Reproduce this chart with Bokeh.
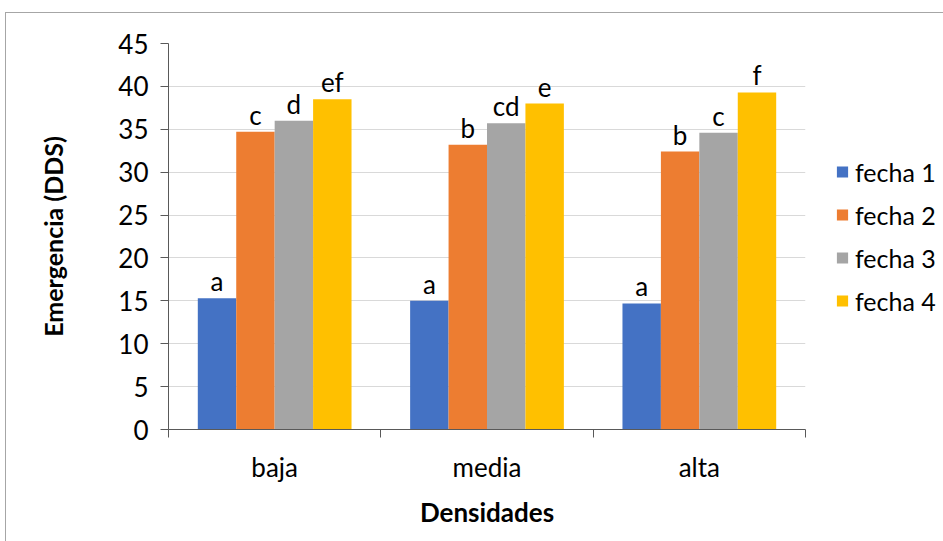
from bokeh.plotting import figure
from bokeh.models import ColumnDataSource, FixedTicker, Legend, LegendItem, Range1d
from bokeh.core.properties import value
from bokeh.embed import file_html
from bokeh.resources import INLINE

# Emergence (DDS) by sowing density and sowing date
categories = ["baja", "media", "alta"]
series_names = ["fecha 1", "fecha 2", "fecha 3", "fecha 4"]
fecha_1 = [15.3, 15.0, 14.7]
fecha_2 = [34.7, 33.2, 32.4]
fecha_3 = [36.0, 35.7, 34.6]
fecha_4 = [38.5, 38.0, 39.3]
letters_1 = ["a", "a", "a"]
letters_2 = ["c", "b", "b"]
letters_3 = ["d", "cd", "c"]
letters_4 = ["ef", "e", "f"]
y_ticks = [0, 5, 10, 15, 20, 25, 30, 35, 40, 45]

series = [fecha_1, fecha_2, fecha_3, fecha_4]
letters = [letters_1, letters_2, letters_3, letters_4]
colors = ["#4472C4", "#ED7D31", "#A5A5A5", "#FFC000"]

FONT = "Lato"
FS = "26px"
BAR_W = 0.181
offsets = [(k - 1.5) * BAR_W for k in range(4)]

p = figure(
    frame_width=637, frame_height=386,
    x_range=Range1d(0, len(categories)), y_range=Range1d(0, 45),
    output_backend="svg", toolbar_location=None,
    min_border_left=162, min_border_top=30, min_border_right=138, min_border_bottom=112,
)
p.styles = {"margin-left": "5px", "margin-top": "12px",
            "border-left": "1px solid #a6a6a6", "border-top": "1px solid #a6a6a6"}
p.outline_line_color = None
p.background_fill_color = "white"
p.border_fill_color = "white"

items = []
for k in range(4):
    xs = [i + 0.5 + offsets[k] for i in range(len(categories))]
    src = ColumnDataSource(dict(x=xs, top=series[k], lab=letters[k]))
    r = p.vbar(x="x", top="top", width=BAR_W, bottom=0, source=src,
               fill_color=colors[k], line_color=None)
    p.text(x="x", y="top", text="lab", source=src, text_align="center",
           text_baseline="alphabetic", y_offset=-17, text_font=value(FONT),
           text_font_size=FS, text_color="black")
    items.append(LegendItem(label=series_names[k], renderers=[r]))

# y axis
yax = p.yaxis[0]
yax.ticker = FixedTicker(ticks=y_ticks)
yax.axis_line_color = "#595959"
yax.major_tick_line_color = "#595959"
yax.major_tick_out = 8
yax.major_tick_in = 0
yax.minor_tick_line_color = None
yax.major_label_text_font = FONT
yax.major_label_text_font_size = FS
yax.major_label_text_color = "black"
yax.major_label_standoff = 12
yax.axis_label = "Emergencia (DDS)"
yax.axis_label_text_font = FONT
yax.axis_label_text_font_style = "bold"
yax.axis_label_text_font_size = "25px"
yax.axis_label_text_color = "black"
yax.axis_label_standoff = 47

# x axis: category names at centers, boundary ticks between groups
xax = p.xaxis[0]
xax.ticker = FixedTicker(ticks=[i + 0.5 for i in range(len(categories))],
                         minor_ticks=list(range(len(categories) + 1)))
xax.major_label_overrides = {i + 0.5: c for i, c in enumerate(categories)}
xax.axis_line_color = "#595959"
xax.major_tick_line_color = None
xax.major_tick_out = 0
xax.major_tick_in = 0
xax.minor_tick_line_color = "#595959"
xax.minor_tick_out = 8
xax.minor_tick_in = 0
xax.major_label_text_font = FONT
xax.major_label_text_font_size = FS
xax.major_label_text_color = "black"
xax.major_label_standoff = 13
xax.axis_label = "Densidades"
xax.axis_label_text_font = FONT
xax.axis_label_text_font_style = "bold"
xax.axis_label_text_font_size = FS
xax.axis_label_text_color = "black"
xax.axis_label_standoff = 10

p.xgrid.grid_line_color = None
p.ygrid.ticker = FixedTicker(ticks=y_ticks)
p.ygrid.grid_line_color = "#d9d9d9"

# legend to the right of the frame
legend = Legend(items=items, location="center_left")
legend.border_line_color = None
legend.background_fill_alpha = 0
legend.margin = 30
legend.padding = 0
legend.label_text_font = FONT
legend.label_text_font_size = "25px"
legend.label_text_color = "black"
legend.glyph_width = 14
legend.glyph_height = 14
legend.label_height = 25
legend.spacing = 13
legend.label_standoff = 6
p.add_layout(legend, "right")

open("out.html", "w").write(file_html(p, INLINE))
